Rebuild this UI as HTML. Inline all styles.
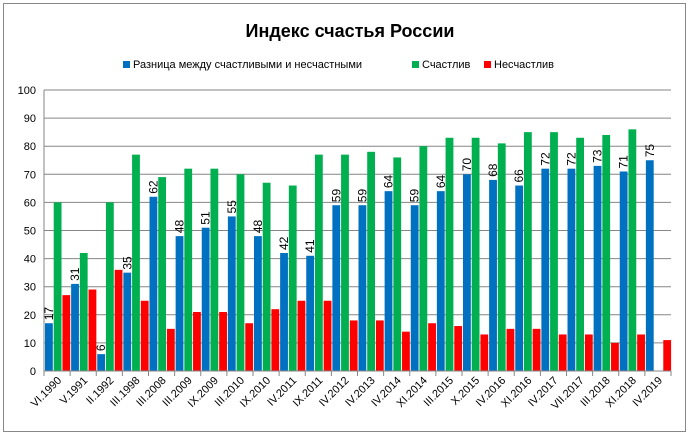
<!DOCTYPE html>
<html><head><meta charset="utf-8"><style>
body{margin:0;background:#fff;font-family:"Liberation Sans",sans-serif}
</style></head><body>
<svg id="c" width="691" height="436" xmlns="http://www.w3.org/2000/svg" font-family="Liberation Sans, sans-serif">
<rect x="3.5" y="3.5" width="682" height="428" fill="#fff" stroke="#888"/>
<text x="350" y="37" text-anchor="middle" font-size="18" font-weight="bold">Индекс счастья России</text>
<g id="legend" font-size="11">
<rect x="123" y="61" width="7" height="7" fill="#0070c0"/>
<text x="133" y="68">Разница между счастливыми и несчастными</text>
<rect x="412" y="61" width="7" height="7" fill="#00b050"/>
<text x="422" y="68">Счастлив</text>
<rect x="484" y="61" width="7" height="7" fill="#ff0000"/>
<text x="494" y="68">Несчастлив</text>
</g>
<g id="grid"></g><g id="bars"></g><g id="labels"></g><g id="axes"></g>
</svg>
<script>
const categories=["VI.1990","V.1991","II.1992","III.1998","III.2008","III.2009","IX.2009","III.2010","IX.2010","IV.2011","IX.2011","IV.2012","IV.2013","IV.2014","XI.2014","III.2015","X.2015","IV.2016","XI.2016","IV.2017","VII.2017","III.2018","XI.2018","IV.2019"];
const diffValues=[17,31,6,35,62,48,51,55,48,42,41,59,59,64,59,64,70,68,66,72,72,73,71,75];
const happyValues=[60,42,60,77,69,72,72,70,67,66,77,77,78,76,80,83,83,81,85,85,83,84,86,null];
const unhappyValues=[27,29,36,25,15,21,21,17,22,25,25,18,18,14,17,16,13,15,15,13,13,10,13,11];
const yTicks=[0,10,20,30,40,50,60,70,80,90,100];
const NS="http://www.w3.org/2000/svg";
const x0=44,x1=671,y0=371,yTop=90,yMax=100;
const gw=(x1-x0)/categories.length;
const bw=gw/3-0.9;
const yS=v=>y0-(v/yMax)*(y0-yTop);
const xS=i=>x0+i*gw;
function mk(t,a,p){const e=document.createElementNS(NS,t);for(const k in a)e.setAttribute(k,a[k]);p.appendChild(e);return e;}
const grid=document.getElementById('grid'),bars=document.getElementById('bars'),labels=document.getElementById('labels'),axes=document.getElementById('axes');
yTicks.forEach(v=>{
 const l=mk('line',{x1:x0,x2:x1,y1:yS(v),y2:yS(v),stroke:'#868686','stroke-width':1},grid);
 
 
 const t=mk('text',{x:x0-8,y:yS(v)+4,'text-anchor':'end','font-size':11},axes);
 t.textContent=v;
 
 
});
const series=[[diffValues,'#0070c0','diff'],[happyValues,'#00b050','happy'],[unhappyValues,'#ff0000','unhappy']];
categories.forEach((c,i)=>{
 series.forEach(([arr,col,nm],s)=>{
  const v=arr[i]; if(v==null)return;
  const bx=xS(i)+1+s*(gw/3);
  const r=mk('rect',{x:bx,y:yS(v),width:bw,height:y0-yS(v),fill:col},bars);
  
  
  if(s===0){
   const tx=bx+bw/2+4,ty=yS(v)-3;
   const t=mk('text',{x:tx,y:ty,'font-size':12,transform:`rotate(-90 ${tx} ${ty})`},labels);
   t.textContent=v;
   
   
  }
 });
 const tk=mk('line',{x1:xS(i),x2:xS(i),y1:y0,y2:y0+5,stroke:'#868686'},axes);
 
 
 const lx=xS(i)+gw/2+5,ly=y0+10;
 const t=mk('text',{x:lx,y:ly,'text-anchor':'end','font-size':11,transform:`rotate(-45 ${lx} ${ly})`},axes);
 t.textContent=c;
 
 
});
const te=mk('line',{x1:x1,x2:x1,y1:y0,y2:y0+5,stroke:'#868686'},axes);


const ya=mk('line',{x1:x0,x2:x0,y1:yTop,y2:y0,stroke:'#868686'},axes);


const xa=mk('line',{x1:x0,x2:x1,y1:y0,y2:y0,stroke:'#868686'},axes);


</script>
</body></html>
